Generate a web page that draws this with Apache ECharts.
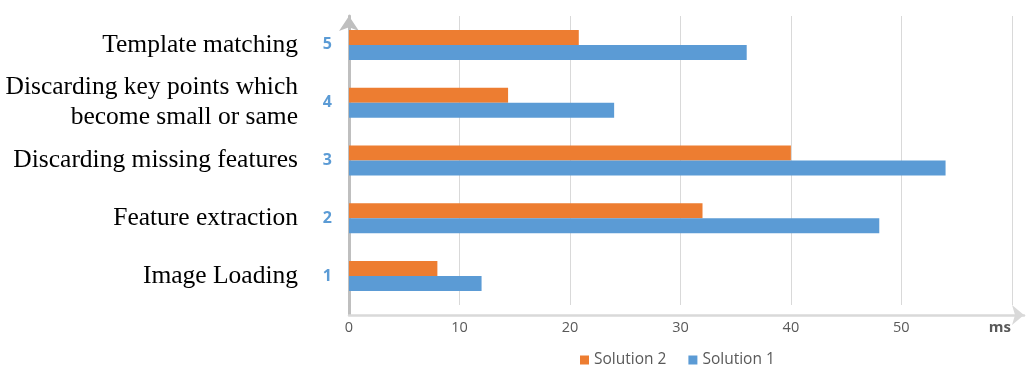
<!DOCTYPE html>
<html>
<head>
<meta charset="utf-8">
<script src="https://cdn.jsdelivr.net/npm/echarts@6/dist/echarts.min.js"></script>
<style>
    html, body { margin: 0; padding: 0; background: #fff; }
    #chart { width: 1030px; height: 385px; }
</style>
</head>
<body>
<div id="chart"></div>
<script>
// categories (bottom to top) and their descriptions
const steps = ['1', '2', '3', '4', '5'];
const stepNames = [
    'Image Loading',
    'Feature extraction',
    'Discarding missing features',
    'Discarding key points which\nbecome small or same',
    'Template matching'
];
// times in ms
const solution1 = [12, 48, 54, 24, 36];
const solution2 = [8, 32, 40, 14.4, 20.8];
const xTicks = [0, 10, 20, 30, 40, 50, 60];

const chart = echarts.init(document.getElementById('chart'));

const axisGray = '#595959';

const option = {
    animation: false,
    legend: {
        data: ['Solution 2', 'Solution 1'],
        left: 575,
        top: 347,
        icon: 'rect',
        itemWidth: 9,
        itemHeight: 9,
        itemGap: 22,
        textStyle: { color: axisGray, fontSize: 15.5, fontFamily: 'Open Sans' }
    },
    grid: {
        left: 349,
        right: 6,
        top: 16,
        bottom: 80
    },
    xAxis: {
        type: 'value',
        min: 0,
        max: 61.1,
        interval: 10,
        offset: 10,
        axisLine: {
            show: true,
            symbol: ['none', 'arrow'],
            symbolSize: [15, 12],
            lineStyle: { color: '#d9d9d9', width: 2.5 }
        },
        axisTick: { show: false },
        axisLabel: {
            showMaxLabel: false,
            margin: 5,
            color: axisGray,
            fontSize: 14.5,
            fontFamily: 'Open Sans',
            formatter: function (v) {
                if (v === xTicks[xTicks.length - 1]) return '{u|ms}';
                return xTicks.indexOf(v) >= 0 ? String(v) : '';
            },
            rich: {
                u: { fontWeight: 'bold', color: axisGray, fontSize: 15, fontFamily: 'Open Sans', padding: [0, 24, 0, 0] }
            }
        },
        splitLine: {
            show: true,
            showMinLine: false,
            showMaxLine: false,
            lineStyle: { color: '#d9d9d9', width: 1 }
        }
    },
    yAxis: [
        {
            type: 'category',
            data: steps,
            axisLine: {
                show: true,
                symbol: ['none', 'arrow'],
                symbolSize: [15, 15],
                lineStyle: { color: '#bfbfbf', width: 3 }
            },
            axisTick: { show: false },
            axisLabel: {
                margin: 17,
                color: '#5b9bd5',
                fontWeight: 'bold',
                fontSize: 16,
                fontFamily: 'Open Sans'
            }
        },
        {
            type: 'category',
            data: steps,
            position: 'left',
            axisLine: { show: false },
            axisTick: { show: false },
            axisLabel: {
                margin: 51,
                color: '#000',
                fontSize: 25.5,
                lineHeight: 30,
                fontFamily: '"Liberation Serif", "Times New Roman", serif',
                formatter: function (v, i) { return stepNames[i]; }
            }
        }
    ],
    series: [
        {
            name: 'Solution 2',
            type: 'bar',
            data: solution2,
            barWidth: 15,
            barGap: '0%',
            itemStyle: { color: '#ed7d31' }
        },
        {
            name: 'Solution 1',
            type: 'bar',
            data: solution1,
            barWidth: 15,
            barGap: '0%',
            itemStyle: { color: '#5b9bd5' }
        }
    ],
    graphic: [
        {
            // y axis line runs down to the offset x axis
            type: 'line',
            shape: { x1: 349.5, y1: 304, x2: 349.5, y2: 316 },
            style: { stroke: '#bfbfbf', lineWidth: 3 }
        }
    ]
};

chart.setOption(option);
</script>
</body>
</html>
